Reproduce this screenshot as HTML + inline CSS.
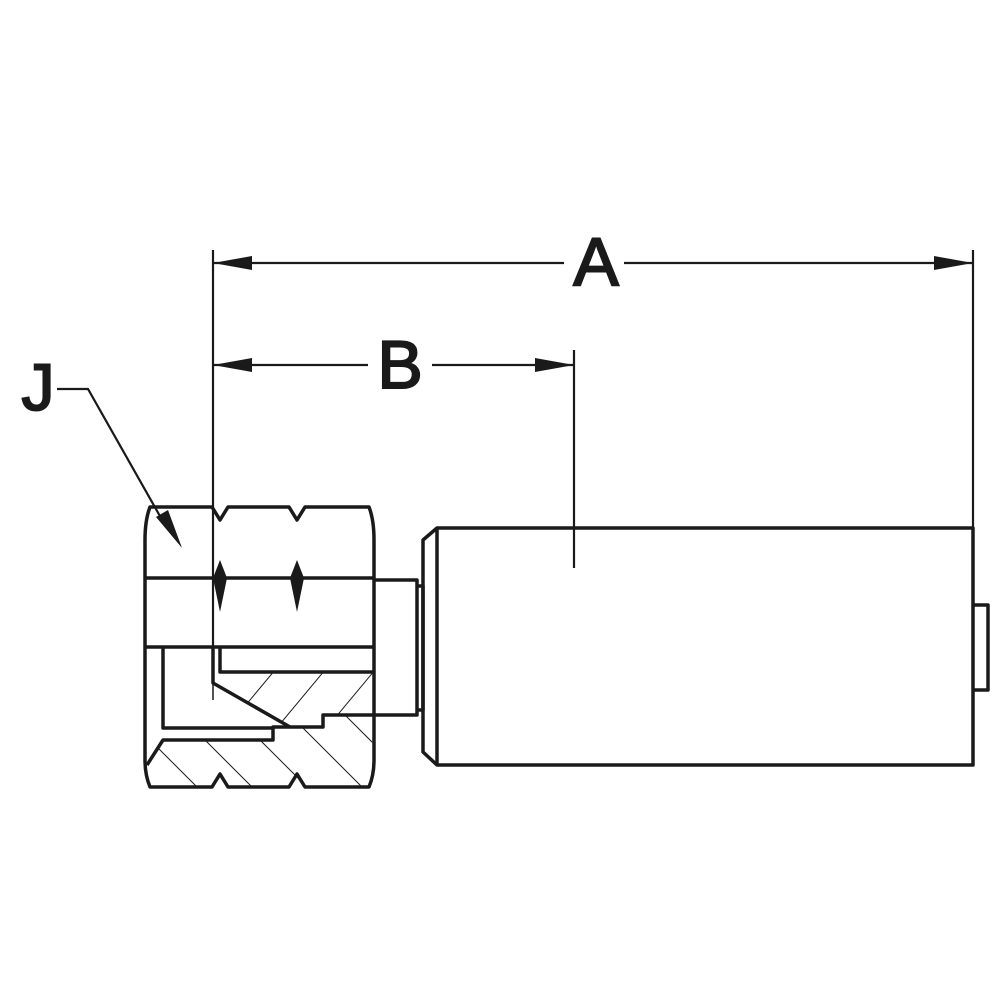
<!DOCTYPE html>
<html><head><meta charset="utf-8"><style>
html,body{margin:0;padding:0;background:#fff;}
svg{display:block;}
text{font-family:"Liberation Sans",sans-serif;fill:#1a1a1a;stroke:#1a1a1a;stroke-width:2;}
</style></head><body>
<svg width="1000" height="1000" viewBox="0 0 1000 1000" xmlns="http://www.w3.org/2000/svg">
<defs>
<clipPath id="h1"><polygon points="220,673 373,673 373,715 323,715 323,727 290,727 213,683"/></clipPath>
<clipPath id="h2"><polygon points="147,765 163,740 273,740 273,727 323,727 323,715 373,715 371,787 150,787"/></clipPath>
</defs>
<g stroke="#1a1a1a" fill="none">
<g stroke-width="1" clip-path="url(#h1)">
<line x1="200" y1="760" x2="300" y2="640"/>
<line x1="250" y1="760" x2="350" y2="640"/>
<line x1="300" y1="760" x2="400" y2="640"/>
<line x1="350" y1="760" x2="450" y2="640"/>
</g>
<g stroke-width="1" clip-path="url(#h2)">
<line x1="110" y1="700" x2="210" y2="800"/>
<line x1="165" y1="700" x2="265" y2="800"/>
<line x1="220" y1="700" x2="320" y2="800"/>
<line x1="275" y1="700" x2="375" y2="800"/>
<line x1="330" y1="700" x2="430" y2="800"/>
</g>
<g stroke-width="2.2">
<line x1="213" y1="250" x2="213" y2="680"/>
<line x1="973" y1="250" x2="973" y2="528"/>
<line x1="574" y1="350" x2="574" y2="568"/>
<line x1="213" y1="263" x2="564" y2="263"/>
<line x1="624" y1="263" x2="973" y2="263"/>
<line x1="213" y1="365" x2="368" y2="365"/>
<line x1="432" y1="365" x2="574" y2="365"/>
<polyline points="57,389 88,389 165,525"/>
</g>
<g stroke-width="3.5" stroke-linejoin="round">
<path d="M150,507 L212,507 L220,520 L228,507 L289,507 L297,520 L305,507 L369,507 Q374,520 374,540 L374,760 Q374,775 369,787 L305,787 L297,774 L289,787 L228,787 L220,774 L212,787 L150,787 Q145,775 145,760 L145,540 Q145,520 150,507 Z"/>
<line x1="145" y1="578" x2="374" y2="578"/>
<line x1="145" y1="647" x2="374" y2="647"/>
<polyline points="163,647 163,728 273,728"/>
<polyline points="147,765 163,740 273,740 273,727 323,727 323,715 374,715"/>
<polyline points="220,647 220,672 374,672"/>
<polyline points="213,647 213,683 290,727"/>
<polyline points="374,580 417,580 417,715 374,715"/>
<polyline points="417,586 423,586 423,710 417,710"/>
<path d="M437,528 L973,528 L973,765 L437,765 L423,752 L423,540 Z"/>
<line x1="437" y1="528" x2="437" y2="765"/>
<polyline points="973,605 988,605 988,690 973,690"/>
</g>
<g stroke-width="1.5">
<line x1="213" y1="555" x2="213" y2="700"/>
</g>
</g>
<g fill="#1a1a1a">
<polygon points="220,560 227,578 220,612 213,578"/>
<polygon points="297,560 304,578 297,612 290,578"/>
<polygon points="213,263 252,256 252,270"/>
<polygon points="973,263 934,256 934,270"/>
<polygon points="213,365 252,358 252,372"/>
<polygon points="574,365 535,358 535,372"/>
<polygon points="182,548 156,517 168,510"/>
</g>
<text x="596" y="285" font-size="68" text-anchor="middle">A</text>
<text x="400" y="388" font-size="68" text-anchor="middle">B</text>
<text x="38" y="410" font-size="66" text-anchor="middle">J</text>
</svg>
</body></html>
